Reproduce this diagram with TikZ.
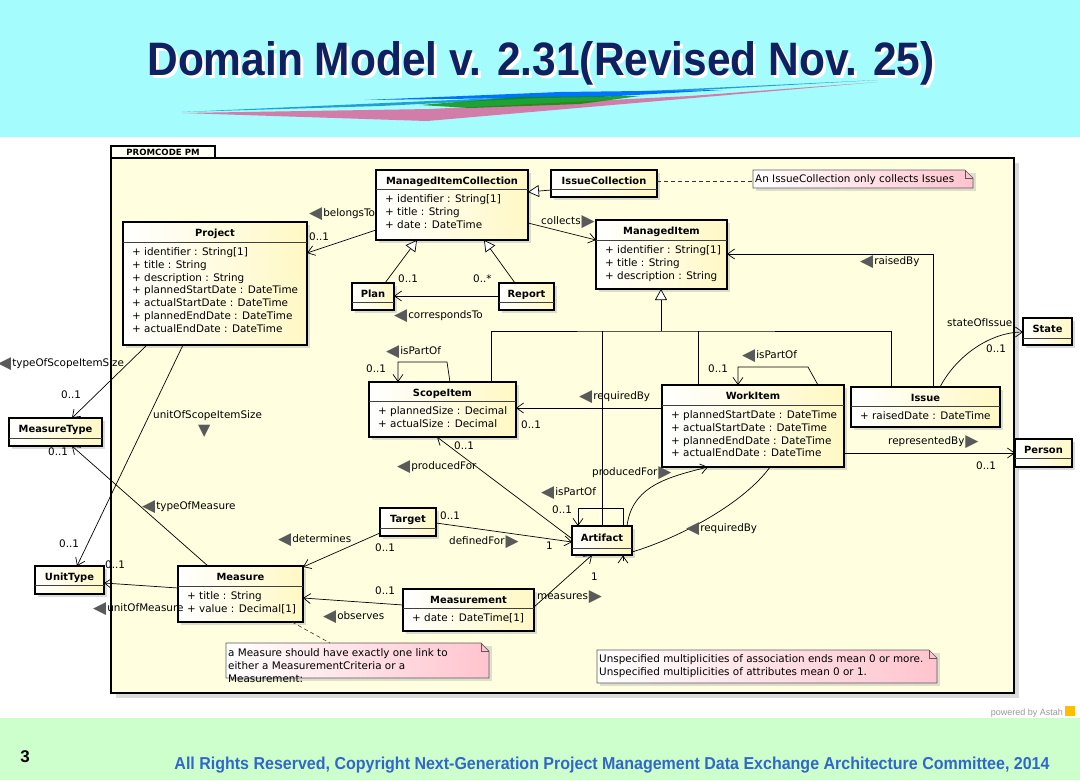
\documentclass[tikz,border=0pt]{standalone}
\usepackage{fontspec}
\setmainfont{DejaVu Sans}
\newfontfamily\arialf{Liberation Sans}
\usetikzlibrary{arrows.meta,calc,shadows}
\definecolor{topband}{RGB}{164,252,252}
\definecolor{botband}{RGB}{204,255,204}
\definecolor{titlenavy}{RGB}{16,32,96}
\definecolor{footblue}{RGB}{51,102,204}
\definecolor{frameyel}{RGB}{255,255,224}
\definecolor{boxyel}{RGB}{255,248,196}
\definecolor{notepink}{RGB}{255,196,206}
\definecolor{markgray}{RGB}{90,90,90}
\newcommand\mkL{\raisebox{-1.8pt}{\textcolor{markgray}{\fontsize{17}{17}\selectfont ◀}}\hspace{1pt}}
\newcommand\mkR{\hspace{1pt}\raisebox{-1.8pt}{\textcolor{markgray}{\fontsize{17}{17}\selectfont ▶}}}
\tikzset{
  clsbox/.style={rectangle, draw=black, line width=1.4pt, left color=white, right color=boxyel, inner sep=0pt, outer sep=0pt,
    drop shadow={shadow xshift=3pt, shadow yshift=-3pt, fill=black!30, opacity=0.45}},
  sepline/.style={draw=black!75, line width=0.6pt},
  clstitle/.style={font=\fontsize{9.9}{12}\selectfont\bfseries, inner sep=0pt},
  clsattr/.style={font=\fontsize{10.4}{12.9}\selectfont, inner sep=0pt, align=left},
  lbl/.style={font=\fontsize{10.4}{12}\selectfont, inner sep=0pt, anchor=west, text height=7.5pt, text depth=2pt},
  plain/.style={draw=black, line width=0.7pt},
  assoc/.style={plain, -{Straight Barb[length=7pt,width=10pt,line width=0.7pt]}},
  gen/.style={plain, -{Triangle[open,length=11pt,width=12pt,fill=white,line width=0.7pt]}},
  dashline/.style={draw=black!80, line width=0.6pt, dash pattern=on 4pt off 3pt},
  notebg/.style={left color=white, right color=notepink, draw=black!65, line width=0.7pt},
  notetext/.style={font=\fontsize{10.4}{12.9}\selectfont, inner sep=0pt, align=left},
}
% name, x, y, w, h, header height, title, attributes
\newcommand\umlclass[8]{%
  \node[clsbox, minimum width=#4pt, minimum height=#5pt, anchor=north west] (#1) at (#2,#3) {};
  \draw[sepline] ($(#1.north west)+(0,#6)$) -- ($(#1.north east)+(0,#6)$);
  \node[clstitle, anchor=base] (#1-name) at ($(#1.north)+(0,#6*0.5+4.5)$) {#7};
  \node[clsattr, anchor=north west] (#1-attr) at ($(#1.north west)+(9,#6+4)$) {\strut #8};
}
\newcommand\umlsimple[7]{%
  \node[clsbox, minimum width=#4pt, minimum height=#5pt, anchor=north west] (#1) at (#2,#3) {};
  \draw[sepline] ($(#1.north west)+(0,#6)$) -- ($(#1.north east)+(0,#6)$);
  \node[clstitle, anchor=base] (#1-name) at ($(#1.north)+(0,#6*0.5+4.5)$) {#7};
}
\newcommand\umlnote[5]{%
  \node[rectangle, inner sep=0pt, outer sep=0pt, minimum width=#4pt, minimum height=#5pt, anchor=north west] (#1) at (#2,#3) {};
  \fill[black!25, opacity=0.5] ($(#1.north west)+(3,3)$) rectangle ($(#1.south east)+(3,3)$);
  \shadedraw[notebg] (#1.north west) -- ($(#1.north east)+(-8,0)$) -- ($(#1.north east)+(0,8)$) -- (#1.south east) -- (#1.south west) -- cycle;
  \draw[draw=black!65, line width=0.6pt] ($(#1.north east)+(-8,0)$) -- ($(#1.north east)+(-8,8)$) -- ($(#1.north east)+(0,8)$);
}
\begin{document}
\begin{tikzpicture}[x=1pt,y=-1pt]
\useasboundingbox (0,0) rectangle (1080,780);
% background bands
\fill[topband] (0,0) rectangle (1080,137);
\fill[white] (0,137) rectangle (1080,718);
\fill[botband] (0,718) rectangle (1080,780);
% swoosh under the title
\fill[violet!35!pink] (182,113) -- (427,121) -- (878,82) -- (690,96) -- (430,109) -- cycle;
\fill[cyan!70!teal] (182,112) -- (520,97) -- (878,80) -- (700,90) -- (380,106) -- cycle;
\fill[blue!55!cyan] (365,100) -- (560,92) -- (723,90) -- (600,97) -- cycle;
\fill[green!55!black, opacity=0.8] (420,105) -- (520,97) -- (640,96) -- (580,104) -- (470,108) -- cycle;
% title
\node[inner sep=0pt, anchor=base, text=white] (titleshadow) at (544,78)
  {\resizebox{787pt}{34pt}{\arialf\bfseries Domain Model v. 2.31(Revised Nov. 25)}};
\node[inner sep=0pt, anchor=base, text=titlenavy] (title) at (541,75)
  {\resizebox{787pt}{34pt}{\arialf\bfseries Domain Model v. 2.31(Revised Nov. 25)}};
% footer
\node[inner sep=0pt, anchor=base, text=black] (pageno) at (25,762) {\fontsize{17}{17}\selectfont\arialf\bfseries 3};
\node[inner sep=0pt, anchor=base, text=footblue] (copyright) at (612,769)
  {\resizebox{875pt}{12.5pt}{\arialf\bfseries All Rights Reserved, Copyright Next-Generation Project Management Data Exchange Architecture Committee, 2014}};
\node[inner sep=0pt, anchor=base east, text=black!40] (powered) at (1063,715) {\fontsize{9}{9}\selectfont\arialf powered by Astah};
\fill[orange!50!yellow] (1065,706) rectangle (1075,716);
% package frame
\node[rectangle, draw=black, line width=1.4pt, fill=frameyel, inner sep=0pt, outer sep=0pt,
  minimum width=903pt, minimum height=535pt, anchor=north west,
  drop shadow={shadow xshift=5pt, shadow yshift=-5pt, fill=black!20, opacity=0.7}] (frame) at (111,158) {};
\node[rectangle, draw=black, line width=1.2pt, fill=frameyel!40!white, inner sep=0pt, outer sep=0pt,
  minimum width=104pt, minimum height=12pt, anchor=south west, font=\fontsize{8.6}{9}\selectfont\bfseries] (tab) at (111,158) {PROMCODE PM};
% classes
\umlclass{project}{123}{222}{184}{123}{20}{Project}{+ identifier : String[1]\\+ title : String\\+ description : String\\+ plannedStartDate : DateTime\\+ actualStartDate : DateTime\\+ plannedEndDate : DateTime\\+ actualEndDate : DateTime}
\umlclass{mic}{376}{170}{152}{70}{19}{ManagedItemCollection}{+ identifier : String[1]\\+ title : String\\+ date : DateTime}
\umlsimple{issuecoll}{551}{170}{106}{27}{19}{IssueCollection}
\umlclass{mi}{596}{220}{131}{69}{20}{ManagedItem}{+ identifier : String[1]\\+ title : String\\+ description : String}
\umlsimple{plan}{352}{283}{42}{27}{19}{Plan}
\umlsimple{report}{499}{283}{55}{27}{19}{Report}
\umlsimple{state}{1023}{318}{49}{27}{20}{State}
\umlsimple{person}{1015}{439}{57}{28}{19}{Person}
\umlclass{scope}{369}{382}{147}{55}{19}{ScopeItem}{+ plannedSize : Decimal\\+ actualSize : Decimal}
\umlclass{workitem}{662}{385}{182}{82}{20}{WorkItem}{+ plannedStartDate : DateTime\\+ actualStartDate : DateTime\\+ plannedEndDate : DateTime\\+ actualEndDate : DateTime}
\umlclass{issue}{851}{387}{149}{40}{19}{Issue}{+ raisedDate : DateTime}
\umlsimple{mtype}{9}{418}{93}{28}{20}{MeasureType}
\umlsimple{utype}{35}{566}{69}{28}{19}{UnitType}
\umlclass{measure}{178}{566}{125}{56}{20}{Measure}{+ title : String\\+ value : Decimal[1]}
\umlsimple{target}{380}{508}{56}{28}{20}{Target}
\umlclass{measurement}{403}{589}{131}{42}{19}{Measurement}{+ date : DateTime[1]}
\umlsimple{artifact}{572}{526}{60}{29}{22}{Artifact}
% notes
\umlnote{note1}{753}{170}{220}{18}
\node[notetext, anchor=base west] (note1-text) at (755,182) {An IssueCollection only collects Issues};
\umlnote{note2}{226}{643}{263}{35}
\node[notetext, anchor=north west] (note2-text) at (228,647) {\strut a Measure should have exactly one link to\\either a MeasurementCriteria or a\\Measurement:};
\umlnote{note3}{597}{650}{340}{33}
\node[notetext, anchor=north west, font=\fontsize{10.4}{13.3}\selectfont] (note3-text) at (599,653) {\strut Unspecified multiplicities of association ends mean 0 or more.\\Unspecified multiplicities of attributes mean 0 or 1.};
% connectors: top part
\draw[assoc] ($(mic.north west)+(0,60)$) -- ($(project.north west)+(184,31)$);
\draw[assoc] ($(mic.north west)+(152,53)$) -- ($(mi.north west)+(0,20)$);
\draw[gen] ($(issuecoll.north west)+(0,20)$) -- ($(mic.north west)+(152,22)$);
\draw[dashline] ($(issuecoll.north west)+(106,11)$) -- ($(note1.north west)+(0,11)$);
\draw[gen] ($(plan.north west)+(33,0)$) -- ($(mic.north west)+(41,70)$);
\draw[gen] ($(report.north west)+(16,0)$) -- ($(mic.north west)+(108,70)$);
\draw[assoc] ($(report.north west)+(0,13)$) -- ($(plan.north west)+(42,13)$);
% generalization tree to ManagedItem
\coordinate (gj) at ($(mi.north west)+(65,111)$);
\draw[gen] (gj) -- ($(mi.north west)+(65,69)$);
\draw[plain] ($(scope.north west)+(122,0)$) |- (gj) -| ($(issue.north west)+(40,0)$);
\coordinate (wiTop) at ($(workitem.north west)+(36,0)$);
\draw[plain] (wiTop) -- (wiTop |- gj);
\coordinate (arTop) at ($(artifact.north west)+(30,0)$);
\draw[plain] (arTop) -- (arTop |- gj);
% raisedBy, stateOfIssue, representedBy
\draw[assoc] ($(issue.north west)+(82,0)$) |- ($(mi.north west)+(131,34)$);
\draw[assoc] ($(issue.north west)+(89,0)$) .. controls +(18,-34) and +(-30,0) .. ($(state.north west)+(0,14)$);
\draw[assoc] ($(workitem.north west)+(182,68)$) -- ($(person.north west)+(0,14)$);
% middle
\draw[assoc] ($(workitem.north west)+(0,23)$) -- ($(scope.north west)+(147,26)$);
\draw[assoc] ($(artifact.north west)+(-1,12)$) -- ($(scope.north west)+(68,55)$);
\draw[assoc] ($(artifact.north west)+(55,0)$) .. controls +(5,-40) and +(-40,10) .. ($(workitem.north west)+(46,82)$);
\draw[plain] ($(workitem.north west)+(108,82)$) .. controls +(-25,35) and +(50,-15) .. ($(artifact.north west)+(60,26)$);
\draw[assoc] ($(artifact.south west)+(51,6)$) -- ($(artifact.south west)+(51,0.5)$);
% self loops
\draw[assoc] ($(artifact.north west)+(51,0)$) -- ++(0,-18) -| ($(artifact.north west)+(6,0)$);
\draw[assoc] ($(scope.north west)+(81,0)$) -- ($(scope.north west)+(78,-20)$) -| ($(scope.north west)+(29,0)$);
\draw[assoc] ($(workitem.north west)+(156,0)$) -- ($(workitem.north west)+(146,-18)$) -| ($(workitem.north west)+(76,0)$);
% left part
\draw[assoc] ($(project.north west)+(24,123)$) -- ($(mtype.north west)+(63,0)$);
\draw[assoc] ($(project.north west)+(60,123)$) -- ($(utype.north west)+(42,0)$);
\draw[assoc] ($(measure.north west)+(30,0)$) -- ($(mtype.north west)+(63,28)$);
\draw[assoc] ($(measure.north west)+(0,22)$) -- ($(utype.north west)+(69,17)$);
\draw[assoc] ($(target.north west)+(0,25)$) -- ($(measure.north west)+(125,1)$);
\draw[assoc] ($(measurement.north west)+(0,16)$) -- ($(measure.north west)+(125,32)$);
\draw[assoc] ($(target.north west)+(56,15)$) -- ($(artifact.north west)+(0,16)$);
\draw[assoc] ($(measurement.north west)+(131,18)$) -- ($(artifact.north west)+(20,29)$);
\draw[dashline] ($(measure.north west)+(114,56)$) -- ($(note2.north west)+(104,0)$);
% labels
\node[lbl] (lbBelongs) at (309,214) {\mkL belongsTo};
\node[lbl] (mBelongs) at (309,238) {0..1};
\node[lbl] (lbCollects) at (541,222) {collects\mkR};
\node[lbl] (mPlan) at (398,280) {0..1};
\node[lbl] (mReport) at (473,280) {0..*};
\node[lbl] (lbCorr) at (394,316) {\mkL correspondsTo};
\node[lbl] (lbRaised) at (860,262) {\mkL raisedBy};
\node[lbl] (lbState) at (947,324) {stateOfIssue};
\node[lbl] (mState) at (986,350) {0..1};
\node[lbl] (lbSIpart) at (386,352) {\mkL isPartOf};
\node[lbl] (mSIpart) at (366,370) {0..1};
\node[lbl] (lbReqSI) at (579,397) {\mkL requiredBy};
\node[lbl] (mReqSI) at (521,426) {0..1};
\node[lbl] (mProdSI) at (454,447) {0..1};
\node[lbl] (lbProdSI) at (397,467) {\mkL producedFor};
\node[lbl] (lbProdWI) at (592,473) {producedFor\mkR};
\node[lbl] (lbArtPart) at (541,493) {\mkL isPartOf};
\node[lbl] (mArtPart) at (552,511) {0..1};
\node[lbl] (lbWIpart) at (742,356) {\mkL isPartOf};
\node[lbl] (mWIpart) at (708,370) {0..1};
\node[lbl] (lbReqArt) at (686,529) {\mkL requiredBy};
\node[lbl] (lbRep) at (888,442) {representedBy\mkR};
\node[lbl] (mRep) at (976,467) {0..1};
\node[lbl] (lbTSIS) at (-2,364) {\mkL typeOfScopeItemSize};
\node[lbl] (mTSIS) at (61,396) {0..1};
\node[lbl] (lbUSIS) at (153,416) {unitOfScopeItemSize};
\node[lbl] (triUSIS) at (198,431) {\raisebox{-1.8pt}{\textcolor{markgray}{\fontsize{16}{16}\selectfont ▼}}};
\node[lbl] (mMT) at (48,453) {0..1};
\node[lbl] (lbTOM) at (142,507) {\mkL typeOfMeasure};
\node[lbl] (mUT1) at (59,545) {0..1};
\node[lbl] (mUT2) at (105,566) {0..1};
\node[lbl] (lbUOM) at (93,609) {\mkL unitOfMeasure};
\node[lbl] (lbDet) at (278,540) {\mkL determines};
\node[lbl] (mDet) at (375,549) {0..1};
\node[lbl] (mTgt) at (440,517) {0..1};
\node[lbl] (lbDef) at (449,542) {definedFor\mkR};
\node[lbl] (mDef) at (546,547) {1};
\node[lbl] (mMeas) at (591,578) {1};
\node[lbl] (mObs) at (375,592) {0..1};
\node[lbl] (lbObs) at (323,617) {\mkL observes};
\node[lbl] (lbMeas) at (537,597) {measures\mkR};
\end{tikzpicture}
\end{document}
